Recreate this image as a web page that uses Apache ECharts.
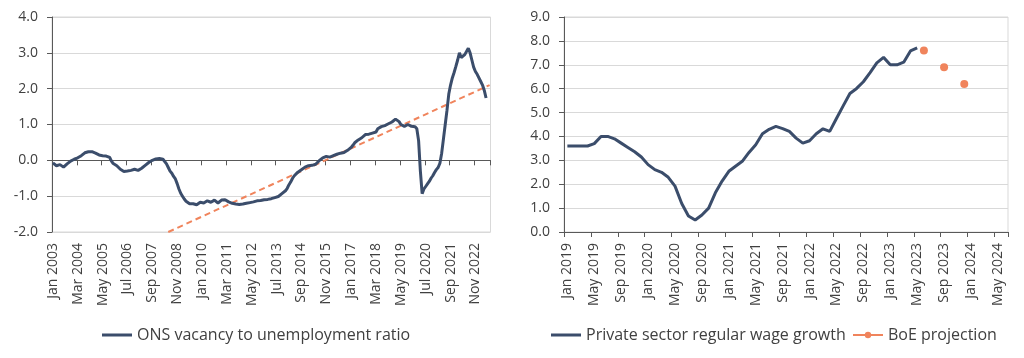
<!DOCTYPE html>
<html>
<head>
<meta charset="utf-8">
<script src="https://cdn.jsdelivr.net/npm/echarts@6/dist/echarts.min.js"></script>
<style>
  html, body { margin: 0; padding: 0; background: #ffffff; }
  #chart { width: 1024px; height: 358px; }
</style>
</head>
<body>
<div id="chart"></div>
<script>
// ---------- DATA ----------
const monthNames = ['Jan','Feb','Mar','Apr','May','Jun','Jul','Aug','Sep','Oct','Nov','Dec'];
function monthRange(startYear, count) {
  const out = [];
  for (let i = 0; i < count; i++) {
    out.push(monthNames[i % 12] + ' ' + (startYear + Math.floor(i / 12)));
  }
  return out;
}
// Left chart categories: Jan 2003 .. Jul 2023
const vacCategories = monthRange(2003, 247);
// Right chart categories: Jan 2019 .. Jun 2024
const wageCategories = monthRange(2019, 66);

// ONS vacancy to unemployment ratio (monthly, Jan 2003 .. May 2023)
const vacancyRatio = [
  -0.07, -0.10, -0.15, -0.17, -0.12, -0.15, -0.19, -0.17, -0.10, -0.06, -0.02, 0.00,
  0.03, 0.05, 0.07, 0.10, 0.13, 0.17, 0.21, 0.23, 0.24, 0.25, 0.24, 0.22,
  0.20, 0.17, 0.15, 0.14, 0.13, 0.13, 0.12, 0.10, 0.08, -0.02, -0.09, -0.13,
  -0.15, -0.20, -0.25, -0.30, -0.31, -0.31, -0.30, -0.29, -0.28, -0.27, -0.25, -0.26,
  -0.28, -0.26, -0.22, -0.18, -0.14, -0.10, -0.06, -0.03, 0.00, 0.02, 0.04, 0.03,
  0.05, 0.02, 0.03, -0.02, -0.10, -0.20, -0.30, -0.36, -0.45, -0.52, -0.65, -0.80,
  -0.92, -1.00, -1.08, -1.14, -1.18, -1.21, -1.22, -1.21, -1.20, -1.24, -1.22, -1.17,
  -1.16, -1.19, -1.16, -1.13, -1.15, -1.17, -1.14, -1.11, -1.15, -1.19, -1.14, -1.11,
  -1.09, -1.10, -1.13, -1.16, -1.18, -1.20, -1.21, -1.22, -1.23, -1.23, -1.22, -1.22,
  -1.21, -1.20, -1.20, -1.18, -1.17, -1.16, -1.15, -1.13, -1.12, -1.12, -1.11, -1.10,
  -1.10, -1.09, -1.08, -1.07, -1.06, -1.04, -1.02, -1.01, -1.00, -0.93, -0.88, -0.85,
  -0.78, -0.68, -0.60, -0.50, -0.43, -0.38, -0.33, -0.30, -0.26, -0.21, -0.19, -0.17,
  -0.15, -0.14, -0.14, -0.13, -0.11, -0.06, -0.01, 0.03, 0.07, 0.09, 0.11, 0.10,
  0.09, 0.11, 0.13, 0.15, 0.17, 0.19, 0.20, 0.20, 0.22, 0.25, 0.28, 0.32,
  0.36, 0.42, 0.49, 0.53, 0.57, 0.60, 0.63, 0.68, 0.72, 0.73, 0.73, 0.75,
  0.76, 0.77, 0.79, 0.88, 0.93, 0.94, 0.95, 0.97, 1.00, 1.02, 1.04, 1.07,
  1.10, 1.15, 1.12, 1.08, 1.00, 0.96, 0.95, 0.98, 1.00, 0.96, 0.95, 0.97,
  0.94, 0.88, 0.55, -0.30, -0.93, -0.80, -0.73, -0.66, -0.59, -0.50, -0.43, -0.34,
  -0.26, -0.20, -0.08, 0.20, 0.60, 1.00, 1.40, 1.85, 2.10, 2.30, 2.45, 2.62,
  2.80, 3.00, 2.87, 2.90, 2.95, 3.00, 3.13, 3.00, 2.80, 2.60, 2.48, 2.40,
  2.38, 2.20, 2.10, 1.95, 1.74
];

// Linear trend (dashed) endpoints
const trendMonths = ['Jun 2008', 'Jul 2023'];
const trendValues = [-2.0, 2.1];

// Private sector regular wage growth (monthly, Jan 2019 .. May 2023)
const wageGrowth = [
  3.6, 3.6, 3.6, 3.6, 3.7, 4.0, 4.0, 3.9, 3.72, 3.54, 3.36, 3.14,
  2.82, 2.61, 2.5, 2.29, 1.92, 1.19, 0.67, 0.5, 0.71, 1.0, 1.64, 2.13,
  2.54, 2.75, 2.96, 3.33, 3.65, 4.11, 4.3, 4.42, 4.33, 4.21, 3.93, 3.72,
  3.82, 4.11, 4.32, 4.21, 4.75, 5.28, 5.8, 6.01, 6.29, 6.67, 7.08, 7.31,
  7.0, 7.0, 7.11, 7.58, 7.71
];

// BoE projection points
const boeMonths = ['Jun 2023', 'Sep 2023', 'Dec 2023'];
const boeValues = [7.6, 6.9, 6.2];

// Axis tick values
const vacTicks = { min: -2, max: 4, step: 1 };
const wageTicks = { min: 0, max: 9, step: 1 };

// ---------- BUILD ----------
const trendSeries = vacCategories.map(() => null);
trendMonths.forEach((m, k) => { trendSeries[vacCategories.indexOf(m)] = trendValues[k]; });
const boeSeries = wageCategories.map(() => null);
boeMonths.forEach((m, k) => { boeSeries[wageCategories.indexOf(m)] = boeValues[k]; });

const NAVY = '#3b4d6b';
const ORANGE = '#f0845c';
const TEXT = '#404040';
const AXIS = '#595959';
const GRID = '#d9d9d9';
const FONT = 'Open Sans';

function yAxisDef(gridIndex, t) {
  return {
    type: 'value', gridIndex: gridIndex, min: t.min, max: t.max, interval: t.step,
    axisLine: { show: true, lineStyle: { color: AXIS, width: 1 } },
    axisTick: { show: true, length: 5, lineStyle: { color: AXIS } },
    axisLabel: { color: TEXT, fontSize: 14, fontFamily: FONT, margin: 14,
      formatter: v => v.toFixed(1) },
    splitLine: { show: true, lineStyle: { color: GRID, width: 1 } }
  };
}
function xAxisDef(gridIndex, cats, interval, margin, onZero) {
  return {
    type: 'category', gridIndex: gridIndex, data: cats, boundaryGap: true,
    axisLine: { show: true, onZero: onZero, lineStyle: { color: AXIS, width: 1 } },
    axisTick: { show: true, interval: interval, length: 5, lineStyle: { color: AXIS } },
    axisLabel: { interval: interval, rotate: 90, margin: margin, color: TEXT,
      fontSize: 14, fontFamily: FONT },
    splitLine: { show: false }
  };
}
const legendText = { fontSize: 16, color: TEXT, fontFamily: FONT };

const chart = echarts.init(document.getElementById('chart'), null, { renderer: 'canvas' });
chart.setOption({
  animation: false,
  backgroundColor: '#ffffff',
  textStyle: { fontFamily: FONT, color: TEXT },
  grid: [
    { left: 52, top: 17, width: 438.5, height: 215, show: true, borderColor: GRID, borderWidth: 1,
      backgroundColor: 'transparent', containLabel: false, outerBoundsMode: 'none' },
    { left: 564, top: 17, width: 444, height: 215, show: true, borderColor: GRID, borderWidth: 1,
      backgroundColor: 'transparent', containLabel: false, outerBoundsMode: 'none' }
  ],
  xAxis: [
    xAxisDef(0, vacCategories, 13, 11, true),
    xAxisDef(1, wageCategories, 3, 11, false)
  ],
  yAxis: [ yAxisDef(0, vacTicks), yAxisDef(1, wageTicks) ],
  legend: [
    { left: 97, top: 322, itemWidth: 30, itemHeight: 3, itemGap: 10, textStyle: legendText,
      data: [{ name: 'ONS vacancy to unemployment ratio', icon: 'rect' }] },
    { left: 546, top: 322, itemWidth: 30, itemHeight: 3, itemGap: 10, textStyle: legendText,
      data: [{ name: 'Private sector regular wage growth', icon: 'rect' }] },
    { left: 847, top: 322, itemWidth: 30, itemHeight: 8, itemGap: 10, textStyle: legendText,
      data: ['BoE projection'] }
  ],
  series: [
    { name: 'Trend', type: 'line', xAxisIndex: 0, yAxisIndex: 0, data: trendSeries,
      connectNulls: true, showSymbol: false, symbol: 'none', z: 2,
      lineStyle: { color: ORANGE, width: 2, type: [6, 4] }, itemStyle: { color: ORANGE } },
    { name: 'ONS vacancy to unemployment ratio', type: 'line', xAxisIndex: 0, yAxisIndex: 0,
      data: vacancyRatio, symbol: 'none', showSymbol: false, z: 3,
      lineStyle: { color: NAVY, width: 3 }, itemStyle: { color: NAVY } },
    { name: 'Private sector regular wage growth', type: 'line', xAxisIndex: 1, yAxisIndex: 1,
      data: wageGrowth, symbol: 'none', showSymbol: false, z: 3,
      lineStyle: { color: NAVY, width: 3 }, itemStyle: { color: NAVY } },
    { name: 'BoE projection', type: 'line', xAxisIndex: 1, yAxisIndex: 1,
      data: boeSeries, connectNulls: false, symbol: 'circle', symbolSize: 8,
      showSymbol: true, showAllSymbol: true, z: 4,
      lineStyle: { color: ORANGE, width: 3 }, itemStyle: { color: ORANGE } }
  ]
});
</script>
</body>
</html>
